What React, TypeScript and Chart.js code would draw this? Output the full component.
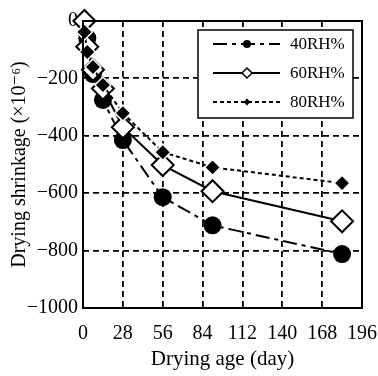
import React, { useEffect, useRef } from "react";
import { Chart, registerables } from "chart.js";

Chart.register(...registerables);

const xTicks = [0, 28, 56, 84, 112, 140, 168, 196];
const yTicks = [0, -200, -400, -600, -800, -1000];

const days40 = [3, 7, 14, 28, 56, 91, 182];
const rh40 = [-60, -185, -275, -415, -614, -712, -812];

const days60 = [1, 3, 7, 14, 28, 56, 91, 182];
const rh60 = [0, -90, -170, -235, -370, -502, -593, -698];

const days80 = [1, 3, 7, 14, 28, 56, 91, 182];
const rh80 = [-38, -108, -160, -223, -321, -457, -510, -565];

const seriesNames = ["40RH%", "60RH%", "80RH%"];

const FONT = "'Liberation Serif', 'DejaVu Serif', serif";

const dash40 = [14, 5, 4, 5];
const dash80 = [4, 3];

const toXY = (xs: number[], ys: number[]) => xs.map((x, i) => ({ x, y: ys[i] }));

const frameAndLegend = {
  id: "frameAndLegend",
  afterDatasetsDraw(chart: any) {
    const { ctx, chartArea } = chart;
    ctx.save();
    ctx.strokeStyle = "#000";
    ctx.lineWidth = 2;
    ctx.setLineDash([]);
    ctx.strokeRect(chartArea.left, chartArea.top, chartArea.right - chartArea.left, chartArea.bottom - chartArea.top);

    // legend box
    const bx = 198, by = 30, bw = 155, bh = 88;
    ctx.fillStyle = "#fff";
    ctx.fillRect(bx, by, bw, bh);
    ctx.lineWidth = 1.5;
    ctx.strokeRect(bx, by, bw, bh);

    const rows = [44, 73, 102];
    const styles = [
      { dash: dash40, marker: "circle" },
      { dash: [] as number[], marker: "open" },
      { dash: dash80, marker: "filled" },
    ];
    rows.forEach((ry, i) => {
      ctx.beginPath();
      ctx.setLineDash(styles[i].dash);
      ctx.lineWidth = 2;
      ctx.strokeStyle = "#000";
      ctx.moveTo(213, ry);
      ctx.lineTo(280, ry);
      ctx.stroke();
      ctx.setLineDash([]);
      const mx = 247;
      if (styles[i].marker === "circle") {
        ctx.beginPath();
        ctx.arc(mx, ry, 4, 0, Math.PI * 2);
        ctx.fillStyle = "#000";
        ctx.fill();
      } else if (styles[i].marker === "open") {
        ctx.beginPath();
        ctx.moveTo(mx, ry - 5);
        ctx.lineTo(mx + 5, ry);
        ctx.lineTo(mx, ry + 5);
        ctx.lineTo(mx - 5, ry);
        ctx.closePath();
        ctx.fillStyle = "#fff";
        ctx.fill();
        ctx.lineWidth = 1.5;
        ctx.stroke();
      } else {
        ctx.beginPath();
        ctx.moveTo(mx, ry - 3.5);
        ctx.lineTo(mx + 3.5, ry);
        ctx.lineTo(mx, ry + 3.5);
        ctx.lineTo(mx - 3.5, ry);
        ctx.closePath();
        ctx.fillStyle = "#000";
        ctx.fill();
      }
      ctx.fillStyle = "#000";
      ctx.font = `17px ${FONT}`;
      ctx.textBaseline = "middle";
      ctx.textAlign = "left";
      ctx.fillText(seriesNames[i], 290, ry + 1);
    });
    ctx.restore();
  },
};

export default function App() {
  const ref = useRef<HTMLCanvasElement | null>(null);

  useEffect(() => {
    document.body.style.margin = "0";
    const canvas = ref.current!;
    const chart = new Chart(canvas, {
      type: "scatter",
      data: {
        datasets: [
          {
            label: seriesNames[2],
            data: toXY(days80, rh80),
            showLine: true,
            clip: false,
            borderColor: "#000",
            borderWidth: 2,
            borderDash: dash80,
            pointStyle: "rectRot",
            pointRadius: 8,
            pointBackgroundColor: "#000",
            pointBorderColor: "#fff",
            pointBorderWidth: 1.5,
            order: 0,
          },
          {
            label: seriesNames[1],
            data: toXY(days60, rh60),
            showLine: true,
            clip: false,
            borderColor: "#000",
            borderWidth: 2,
            pointStyle: "rectRot",
            pointRadius: 11,
            pointBackgroundColor: "#fff",
            pointBorderColor: "#000",
            pointBorderWidth: 2,
            order: 1,
          },
          {
            label: seriesNames[0],
            data: toXY(days40, rh40),
            showLine: true,
            clip: false,
            borderColor: "#000",
            borderWidth: 2,
            borderDash: dash40,
            pointStyle: "circle",
            pointRadius: 9,
            pointBackgroundColor: "#000",
            pointBorderColor: "#000",
            pointBorderWidth: 0,
            order: 2,
          },
        ],
      },
      options: {
        animation: false,
        responsive: false,
        layout: { padding: { top: 21, right: 16, left: 0, bottom: 0 } },
        plugins: { legend: { display: false }, tooltip: { enabled: false } },
        scales: {
          x: {
            type: "linear",
            min: 0,
            max: 196,
            afterBuildTicks: (s: any) => {
              s.ticks = xTicks.map((v) => ({ value: v }));
            },
            afterFit: (s: any) => {
              s.height = 68;
              s.paddingLeft = 0;
              s.paddingRight = 0;
            },
            ticks: {
              color: "#000",
              font: { family: FONT, size: 20 },
              padding: 14,
              maxRotation: 0,
              autoSkip: false,
            },
            grid: { color: "#000", lineWidth: 1.8, drawTicks: false },
            border: { display: false, dash: [6, 4] } as any,
            title: {
              display: true,
              text: "Drying age (day)",
              color: "#000",
              font: { family: FONT, size: 21 },
              padding: { top: 4, bottom: 4 },
            },
          },
          y: {
            type: "linear",
            min: -1000,
            max: 0,
            afterBuildTicks: (s: any) => {
              s.ticks = yTicks.map((v) => ({ value: v }));
            },
            afterFit: (s: any) => {
              s.width = 83;
              s.paddingTop = 0;
              s.paddingBottom = 0;
            },
            ticks: {
              color: "#000",
              font: { family: FONT, size: 20 },
              padding: 5,
              autoSkip: false,
              callback: (v: any) => String(v).replace("-", "\u2212"),
            },
            grid: { color: "#000", lineWidth: 1.8, drawTicks: false },
            border: { display: false, dash: [6, 4] } as any,
            title: {
              display: true,
              text: "Drying shrinkage (\u00d710\u207b\u2076)",
              color: "#000",
              font: { family: FONT, size: 20 },
              padding: { top: 8, bottom: 0 },
            },
          },
        },
      },
      plugins: [frameAndLegend],
    });
    return () => chart.destroy();
  }, []);

  return (
    <div style={{ position: "absolute", left: 0, top: 0, width: 378, height: 376, background: "#fff" }}>
      <canvas ref={ref} width={378} height={376} />
    </div>
  );
}
